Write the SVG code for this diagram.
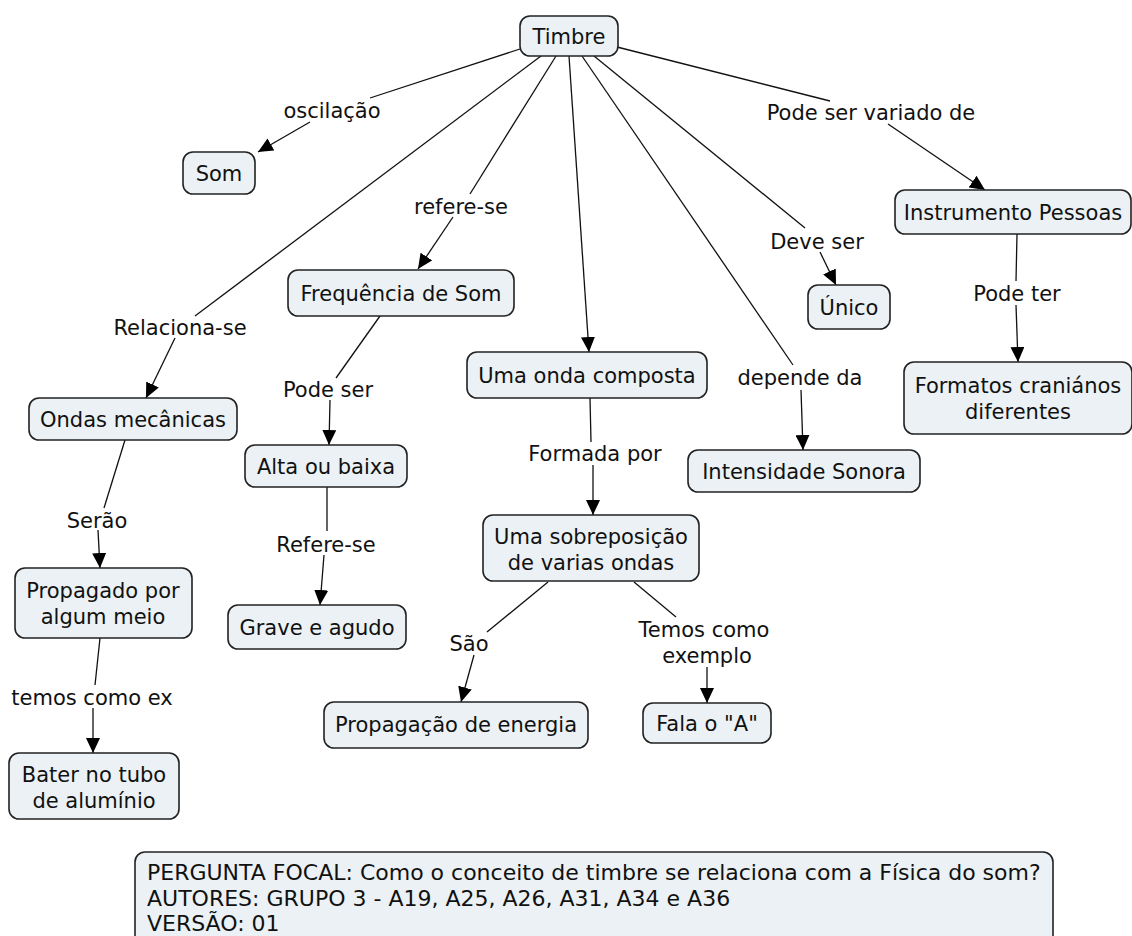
<svg xmlns="http://www.w3.org/2000/svg" width="1132" height="936" viewBox="0 0 1132 936">
<defs>
<marker id="arr" viewBox="0 0 15 14" refX="15" refY="7" markerWidth="15" markerHeight="14" markerUnits="userSpaceOnUse" orient="auto">
<path d="M0,0 L15,7 L0,14 Z" fill="#000"/>
</marker>
<style>
.n rect{fill:#ebf1f4;stroke:#222;stroke-width:1.6}
.n text,.l{font-family:"DejaVu Sans",Verdana,sans-serif;font-size:21px;fill:#111;text-anchor:middle}
.n.f text{text-anchor:start;font-size:22px}
.c line{stroke:#111;stroke-width:1.3;fill:none}
.c line.a{marker-end:url(#arr)}
</style>
</defs>
<rect width="1132" height="936" fill="#fff"/>
<g class="c">
<line x1="520" y1="49" x2="370" y2="98"/><line class="a" x1="310" y1="122" x2="258" y2="152"/>
<line x1="541" y1="56" x2="195" y2="316"/><line class="a" x1="175" y1="338" x2="146" y2="398"/>
<line x1="556" y1="56" x2="470" y2="194"/><line class="a" x1="453" y1="217" x2="418" y2="269"/>
<line class="a" x1="569" y1="56" x2="589" y2="352"/>
<line x1="582" y1="56" x2="793" y2="365"/><line class="a" x1="801" y1="390" x2="803" y2="450"/>
<line x1="594" y1="56" x2="805" y2="228"/><line class="a" x1="820" y1="252" x2="836" y2="285"/>
<line x1="617" y1="47" x2="830" y2="101"/><line class="a" x1="888" y1="124" x2="985" y2="190"/>
<line x1="1017" y1="234" x2="1016" y2="281"/><line class="a" x1="1016" y1="305" x2="1018" y2="362"/>
<line x1="380" y1="316" x2="336" y2="378"/><line class="a" x1="330" y1="400" x2="329" y2="445"/>
<line x1="327" y1="487" x2="327" y2="531"/><line class="a" x1="324" y1="555" x2="320" y2="605"/>
<line x1="125" y1="440" x2="104" y2="508"/><line class="a" x1="98" y1="530" x2="100" y2="568"/>
<line x1="100" y1="638" x2="95" y2="685"/><line class="a" x1="93" y1="708" x2="93" y2="753"/>
<line x1="590" y1="398" x2="591" y2="442"/><line class="a" x1="593" y1="465" x2="593" y2="515"/>
<line x1="548" y1="582" x2="487" y2="632"/><line class="a" x1="474" y1="655" x2="461" y2="702"/>
<line x1="634" y1="582" x2="676" y2="617"/><line class="a" x1="707" y1="667" x2="707" y2="703"/>
</g>
<g id="labels">
<text class="l" x="332" y="118">oscilação</text>
<text class="l" x="461" y="214">refere-se</text>
<text class="l" x="871" y="120">Pode ser variado de</text>
<text class="l" x="817" y="249">Deve ser</text>
<text class="l" x="1017" y="301">Pode ter</text>
<text class="l" x="180" y="335">Relaciona-se</text>
<text class="l" x="328" y="397">Pode ser</text>
<text class="l" x="800" y="385">depende da</text>
<text class="l" x="595" y="461">Formada por</text>
<text class="l" x="97" y="528">Serão</text>
<text class="l" x="326" y="552">Refere-se</text>
<text class="l" x="469" y="651">São</text>
<text class="l" x="704" y="637">Temos como</text>
<text class="l" x="707" y="663">exemplo</text>
<text class="l" x="92" y="705">temos como ex</text>
</g>
<g id="timbre" class="n"><rect x="520" y="16" width="98" height="40" rx="10"/><text x="569" y="44">Timbre</text></g>
<g id="som" class="n"><rect x="183" y="152" width="72" height="42" rx="10"/><text x="219" y="181">Som</text></g>
<g id="frequencia" class="n"><rect x="288" y="270" width="226" height="46" rx="10"/><text x="401" y="301">Frequência de Som</text></g>
<g id="ondas" class="n"><rect x="29" y="398" width="208" height="42" rx="10"/><text x="133" y="427">Ondas mecânicas</text></g>
<g id="alta" class="n"><rect x="245" y="445" width="162" height="42" rx="10"/><text x="326" y="474">Alta ou baixa</text></g>
<g id="composta" class="n"><rect x="467" y="352" width="240" height="46" rx="10"/><text x="587" y="383">Uma onda composta</text></g>
<g id="unico" class="n"><rect x="808" y="285" width="82" height="44" rx="10"/><text x="849" y="315">Único</text></g>
<g id="instrumento" class="n"><rect x="895" y="190" width="236" height="44" rx="10"/><text x="1013" y="220">Instrumento Pessoas</text></g>
<g id="formatos" class="n"><rect x="904" y="362" width="228" height="72" rx="10"/><text x="1018" y="393">Formatos craniános</text><text x="1018" y="419">diferentes</text></g>
<g id="intensidade" class="n"><rect x="688" y="450" width="232" height="42" rx="10"/><text x="804" y="479">Intensidade Sonora</text></g>
<g id="sobreposicao" class="n"><rect x="483" y="515" width="216" height="66" rx="10"/><text x="591" y="544">Uma sobreposição</text><text x="591" y="570">de varias ondas</text></g>
<g id="propagado" class="n"><rect x="15" y="568" width="177" height="70" rx="10"/><text x="103" y="598">Propagado por</text><text x="103" y="624">algum meio</text></g>
<g id="grave" class="n"><rect x="228" y="605" width="178" height="44" rx="10"/><text x="317" y="635">Grave e agudo</text></g>
<g id="propagacao" class="n"><rect x="324" y="702" width="264" height="46" rx="10"/><text x="456" y="732">Propagação de energia</text></g>
<g id="fala" class="n"><rect x="643" y="703" width="128" height="40" rx="10"/><text x="707" y="731">Fala o "A"</text></g>
<g id="bater" class="n"><rect x="9" y="753" width="170" height="66" rx="10"/><text x="94" y="782">Bater no tubo</text><text x="94" y="808">de alumínio</text></g>
<g id="focal" class="n f"><rect x="135" y="852" width="918" height="100" rx="10"/>
<text x="147" y="880">PERGUNTA FOCAL: Como o conceito de timbre se relaciona com a Física do som?</text>
<text x="147" y="906">AUTORES: GRUPO 3 - A19, A25, A26, A31, A34 e A36</text>
<text x="147" y="931">VERSÃO: 01</text></g>
</svg>
